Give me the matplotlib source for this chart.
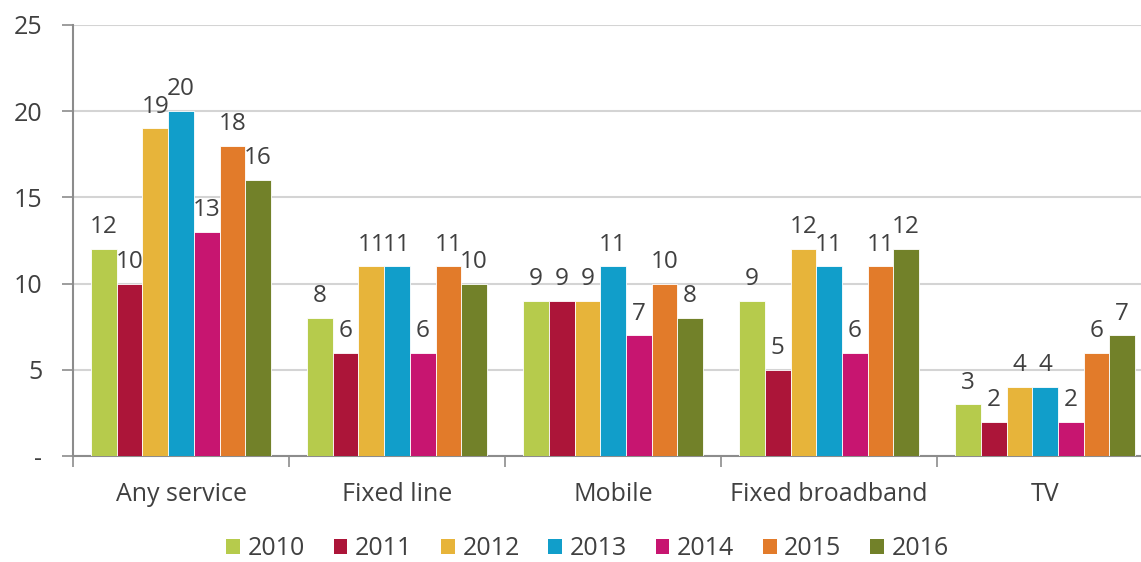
import numpy as np
import matplotlib.pyplot as plt
from matplotlib.patches import Patch

plt.rcParams['font.family'] = ['Open Sans', 'DejaVu Sans']

categories = ['Any service', 'Fixed line', 'Mobile', 'Fixed broadband', 'TV']
years = ['2010', '2011', '2012', '2013', '2014', '2015', '2016']
values = {
    '2010': [12, 8, 9, 9, 3],
    '2011': [10, 6, 9, 5, 2],
    '2012': [19, 11, 9, 12, 4],
    '2013': [20, 11, 11, 11, 4],
    '2014': [13, 6, 7, 6, 2],
    '2015': [18, 11, 10, 11, 6],
    '2016': [16, 10, 8, 12, 7],
}
colors = ['#B6CB4C', '#AC1539', '#E7B43A', '#119ECA', '#C71570', '#E27B2A', '#728129']
y_ticks = [0, 5, 10, 15, 20, 25]
y_ticklabels = ['-', '5', '10', '15', '20', '25']

text_col = '#404040'
axis_col = '#8C8C8C'
fs = 18

fig = plt.figure(figsize=(11.41, 5.62), dpi=100)
ax = fig.add_axes([0.064, 0.1886, 0.9466, 0.767])

x = np.arange(len(categories))
w = 0.119
for k, yr in enumerate(years):
    pos = x + (k - 3) * w
    bars = ax.bar(pos, values[yr], width=w, color=colors[k], edgecolor='white',
                  linewidth=0.6, zorder=3)
    for b, v in zip(bars, values[yr]):
        ax.annotate(str(v), (b.get_x() + b.get_width() / 2, v), xytext=(0, 7),
                    textcoords='offset points', ha='center', va='bottom',
                    fontsize=17.5, color=text_col, zorder=4)

ax.set_xlim(-0.5, len(categories) - 0.5)
ax.set_ylim(0, 25)
ax.set_yticks(y_ticks)
ax.set_yticklabels(y_ticklabels)
ax.set_xticks(x)
ax.set_xticklabels(categories)
ax.set_xticks(np.arange(-0.5, len(categories), 1), minor=True)
ax.tick_params(axis='x', which='major', length=0, labelsize=fs, labelcolor=text_col, pad=19)
ax.tick_params(axis='x', which='minor', length=8, color=axis_col, width=1.2)
ax.tick_params(axis='y', length=8, color=axis_col, width=1.2, labelsize=fs,
               labelcolor=text_col, pad=14)
ax.yaxis.grid(True, color='#D4D4D4', linewidth=1.5, zorder=0)
for s in ['top', 'right']:
    ax.spines[s].set_visible(False)
for s in ['left', 'bottom']:
    ax.spines[s].set_color(axis_col)
    ax.spines[s].set_linewidth(1.5)

handles = [Patch(facecolor=c, label=y) for c, y in zip(colors, years)]
fig.legend(handles=handles, loc='center', bbox_to_anchor=(0.515, 0.024), ncol=7,
           frameon=False, fontsize=fs, handlelength=0.55, handleheight=0.55,
           handletextpad=0.3, columnspacing=1.15, labelcolor=text_col,
           borderpad=0.1)

fig.savefig('out.png', dpi=100)
